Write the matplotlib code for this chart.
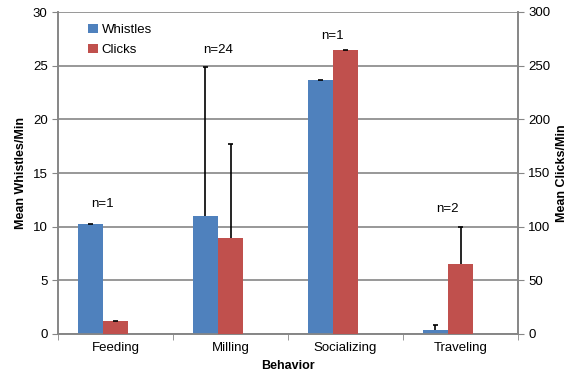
import numpy as np
import matplotlib
matplotlib.use("Agg")
import matplotlib.pyplot as plt

plt.rcParams['font.family'] = ['Liberation Sans', 'DejaVu Sans']

# данные
behaviors = ["Feeding", "Milling", "Socializing", "Traveling"]
whistles = [10.25, 11.0, 23.67, 0.37]
whistles_err = [0.0, 13.85, 0.0, 0.44]
clicks = [12.0, 89.5, 264.7, 65.2]
clicks_err = [0.0, 87.3, 0.0, 34.2]
n_labels = ["n=1", "n=24", "n=1", "n=2"]
n_heights = [12.1, 26.5, 27.8, 11.6]

blue = "#4F81BD"
red = "#C0504D"
grid_c = "#868686"

fig = plt.figure(figsize=(5.76, 3.91), dpi=100)
ax1 = fig.add_axes([58/576, 57/391, 460/576, 322/391])
ax2 = ax1.twinx()

x = np.arange(len(behaviors))
w = 0.22
cap = 0.022


def upper_err(ax, xs, vals, errs):
    # только верхние "усы" ошибок
    vals = np.array(vals)
    tops = vals + np.array(errs)
    ax.vlines(xs, vals, tops, color="black", linewidth=1.2, zorder=4)
    ax.hlines(tops, xs - cap, xs + cap, color="black", linewidth=1.2, zorder=4)


# синие слева, красные по центру категории
ax1.bar(x - w, whistles, w, color=blue, label="Whistles", zorder=3)
upper_err(ax1, x - w, whistles, whistles_err)
ax2.bar(x, clicks, w, color=red, label="Clicks", zorder=3)
upper_err(ax2, x, clicks, clicks_err)

ax1.set_xlim(-0.5, len(x) - 0.5)
ax1.set_ylim(0, 30)
ax2.set_ylim(0, 300)
ax1.set_yticks(np.arange(0, 31, 5))
ax2.set_yticks(np.arange(0, 301, 50))
ax1.yaxis.grid(True, color=grid_c, linewidth=1.2, zorder=0)
ax1.set_axisbelow(True)

ax1.set_xticks(x)
ax1.set_xticklabels(behaviors, fontsize=9.5)
ax1.set_xticks(np.arange(-0.5, len(x), 1), minor=True)
ax1.tick_params(axis="x", which="major", length=0, pad=6)
ax1.tick_params(axis="x", which="minor", length=4, color=grid_c, direction="out")
ax1.tick_params(axis="y", labelsize=9.5, length=4, color=grid_c, direction="out")
ax2.tick_params(axis="y", labelsize=9.5, length=4, color=grid_c, direction="out")

for ax in (ax1, ax2):
    ax.spines["top"].set_visible(False)
    for s in ("left", "right", "bottom"):
        ax.spines[s].set_color(grid_c)
        ax.spines[s].set_linewidth(1.2)

ax1.set_ylabel("Mean Whistles/Min", fontsize=9, fontweight="bold")
ax2.set_ylabel("Mean Clicks/Min", fontsize=9, fontweight="bold")
ax1.set_xlabel("Behavior", fontsize=9, fontweight="bold", labelpad=4)

for xi, lab, h in zip(x, n_labels, n_heights):
    ax1.text(xi - w/2, h, lab, ha="center", va="center", fontsize=9.5)

h1, l1 = ax1.get_legend_handles_labels()
h2, l2 = ax2.get_legend_handles_labels()
ax1.legend(h1 + h2, l1 + l2, loc="upper left", bbox_to_anchor=(0.04, 1.0),
           frameon=False, fontsize=9.5, handlelength=0.7, handleheight=0.7,
           handletextpad=0.3, labelspacing=0.6)

fig.savefig("out.png", dpi=100)
